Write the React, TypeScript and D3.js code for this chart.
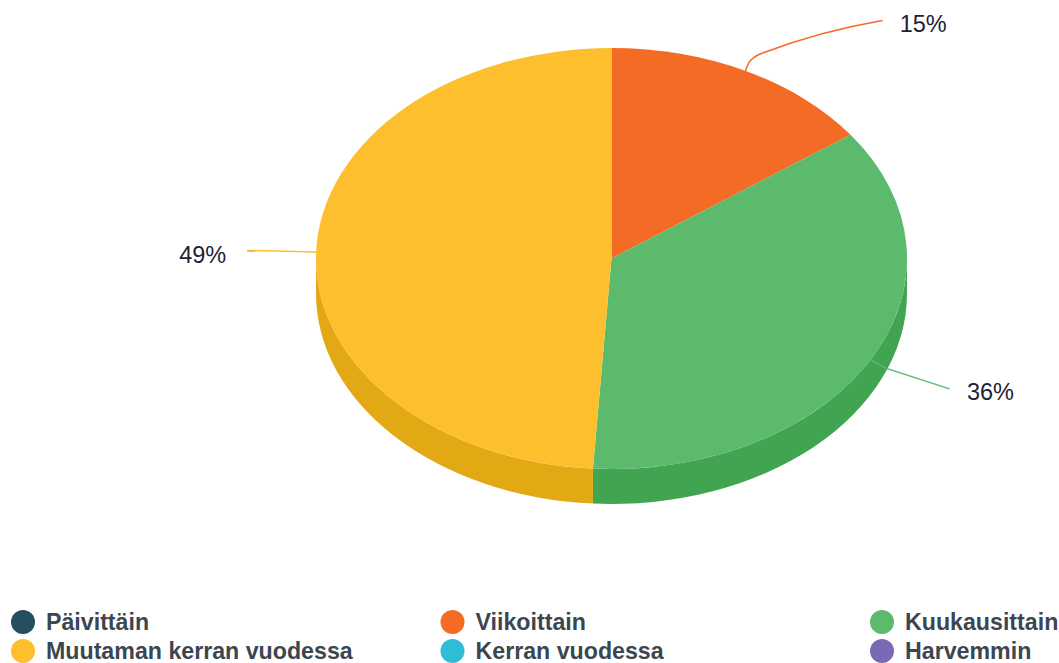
import React from "react";
import * as d3 from "d3";

const categories = ["Päivittäin", "Viikoittain", "Kuukausittain", "Muutaman kerran vuodessa", "Kerran vuodessa", "Harvemmin"];
const values = [0, 15, 36, 49, 0, 0];
const colors = ["#234f5f", "#f46b25", "#5bba6b", "#fdbf2d", "#2fbcd6", "#7a6ab5"];
const sideColors = ["#1d4250", "#c9581e", "#40a451", "#e3a914", "#27a0b5", "#655799"];

const W = 1059, H = 663;
const cx = 611.5, cy = 258.5, rx = 295.5, ry = 210.5, depth = 35;

const px = (a: number) => cx + rx * Math.sin(a);
const py = (a: number) => cy - ry * Math.cos(a);

// Leader line tail (relative to the pie rim point) and label placement, per slice.
const leaderTail = (c: string, sx: number, sy: number) => {
  if (c === "Viikoittain") return `C${sx + 2.5},${sy - 9} ${sx + 6},${sy - 14} ${sx + 17},${sy - 18}Q${sx + 75},${sy - 40} ${sx + 137},${sy - 50.5}`;
  if (c === "Kuukausittain") return `L${sx + 16},${sy + 8.5}L${sx + 79},${sy + 29}`;
  return `L${sx - 69},${sy - 1.5}`;
};
const labelPos = (c: string, sx: number, sy: number): [number, number] => {
  if (c === "Viikoittain") return [sx + 154, sy - 39];
  if (c === "Kuukausittain") return [sx + 96.5, sy + 40];
  return [sx - 137, sy + 11];
};

export default function App() {
  const arcs = d3.pie<number>().sort(null)(values);
  const arcGen = d3.arc<d3.PieArcDatum<number>>().innerRadius(0).outerRadius(rx);
  const items = categories.map((c, i) => ({ c, i, a: arcs[i] })).filter((d) => d.a.endAngle > d.a.startAngle);

  const wall = (s: number, e: number) => {
    const a0 = Math.max(s, Math.PI / 2);
    const a1 = Math.min(e, (3 * Math.PI) / 2);
    if (a1 <= a0) return null;
    return `M${px(a0)},${py(a0)}A${rx},${ry} 0 0 1 ${px(a1)},${py(a1)}L${px(a1)},${py(a1) + depth}A${rx},${ry} 0 0 0 ${px(a0)},${py(a0) + depth}Z`;
  };

  const legendX = d3.scalePoint<number>().domain([0, 1, 2]).range([23, 882]);
  const legendY = d3.scalePoint<number>().domain([0, 1]).range([622, 651]);

  return (
    <svg width={W} height={H} style={{ position: "absolute", left: 0, top: 0, background: "#fff" }} fontFamily="Liberation Sans, Arial, sans-serif">
      {items.map((d) => {
        const p = wall(d.a.startAngle, d.a.endAngle);
        return p ? <path key={d.c} d={p} fill={sideColors[d.i]} /> : null;
      })}
      <g transform={`translate(${cx},${cy}) scale(1,${ry / rx})`}>
        {items.map((d) => (
          <path key={d.c} d={arcGen(d.a) ?? ""} fill={colors[d.i]} />
        ))}
      </g>
      {items.map((d) => {
        const m = (d.a.startAngle + d.a.endAngle) / 2;
        const sx = px(m), sy = py(m);
        const [tx, ty] = labelPos(d.c, sx, sy);
        return (
          <g key={d.c}>
            <path d={`M${sx},${sy}${leaderTail(d.c, sx, sy)}`} fill="none" stroke={colors[d.i]} strokeWidth={1.5} />
            <text x={tx} y={ty} fontSize={23.5} fill="#1f2233">{`${d.a.value}%`}</text>
          </g>
        );
      })}
      {categories.map((c, i) => {
        const x = legendX(i % 3)!;
        const y = legendY(Math.floor(i / 3))!;
        return (
          <g key={c}>
            <circle cx={x} cy={y} r={12} fill={colors[i]} />
            <text x={x + 23} y={y + 8} fontSize={23.2} fontWeight="bold" fill="#3c4650">{c}</text>
          </g>
        );
      })}
    </svg>
  );
}
